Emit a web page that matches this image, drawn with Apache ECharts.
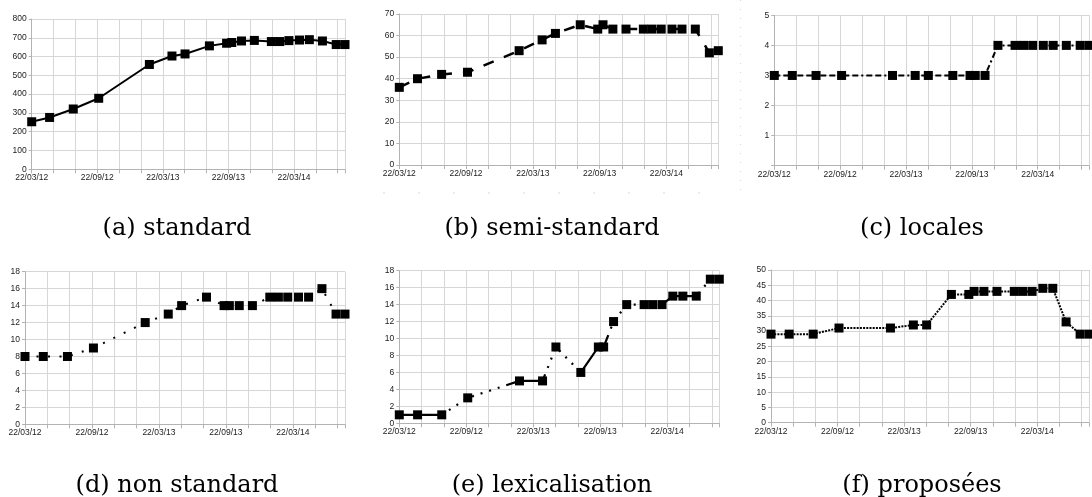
<!DOCTYPE html>
<html>
<head>
<meta charset="utf-8">
<script src="https://cdn.jsdelivr.net/npm/echarts@6/dist/echarts.min.js"></script>
<style>
html,body{margin:0;padding:0;background:#fff;}
#chart{width:1092px;height:497px;}
</style>
</head>
<body>
<div id="chart"></div>
<script>
// ---- data ----
const dates = ['2012-03-22','2012-05-11','2012-07-16','2012-09-26','2013-02-15','2013-04-17','2013-05-23','2013-07-30','2013-09-17','2013-10-01','2013-10-28','2013-12-03','2014-01-20','2014-02-13','2014-03-08','2014-04-07','2014-05-04','2014-06-10','2014-07-18','2014-08-12'];
const xTickLabels = ['22/03/12','22/09/12','22/03/13','22/09/13','22/03/14'];
const standard = [253, 276, 321, 378, 558, 603, 614, 657, 671, 675, 683, 686, 680, 680, 685, 688, 690, 683, 664, 664];
const semiStandard = [36, 40, 42, 43, 53, 58, 61, 65, 63, 65, 63, 63, 63, 63, 63, 63, 63, 63, 52, 53];
const locales = [3, 3, 3, 3, 3, 3, 3, 3, 3, 3, 3, 4, 4, 4, 4, 4, 4, 4, 4, 4];
const nonStandard = [8, 8, 8, 9, 12, 13, 14, 15, 14, 14, 14, 14, 15, 15, 15, 15, 15, 16, 13, 13];
const lexicalisation = [1, 1, 1, 3, 5, 5, 9, 6, 9, 9, 12, 14, 14, 14, 14, 15, 15, 15, 17, 17];
const proposees = [29, 29, 29, 31, 31, 32, 32, 42, 42, 43, 43, 43, 43, 43, 43, 44, 44, 33, 29, 29];
const captions = ['(a) standard','(b) semi-standard','(c) locales','(d) non standard','(e) lexicalisation','(f) proposées'];
const yTicks = [[0,800,100],[0,70,10],[0,5,1],[0,18,2],[0,18,2],[0,50,5]];

// months elapsed since the first snapshot (22/03/12)
function monthsFromStart(s){
  const p = s.split('-').map(Number);
  return (p[0]-2012)*12 + (p[1]-3) + (p[2]-22)/30.4;
}

// ---- layout / styles ----
const panels = [
  {left:31.7, top:19, right:345, bottom:169.3, width:2, dash:'solid', values:standard},
  {left:399.3, top:14, right:718.3, bottom:165, width:2.5, dash:[11,11], values:semiStandard},
  {left:774.3, top:15.3, right:1092.8, bottom:165.7, width:2, dash:[6,3,6,3,2,3], values:locales, hideZero:true},
  {left:25, top:271.7, right:345, bottom:424.3, width:2, dash:[2,9.5], values:nonStandard},
  {left:399.3, top:270.7, right:719.3, bottom:423.3, width:2.2, dash:[44,7,2,7,2,7,2,7,2,7,2,7,2,7,2,7], values:lexicalisation},
  {left:771, top:270, right:1092.6, bottom:422.7, width:2, dash:[2,1.2], values:proposees}
];
const captionPos = [[177,229],[552,229],[922,229],[177,486],[552,486],[922,486]];

const xMax = monthsFromStart(dates[dates.length-1]);
const grids = [], xAxes = [], yAxes = [], series = [];
panels.forEach((p,i)=>{
  grids.push({left:p.left, top:p.top, width:p.right-p.left, height:p.bottom-p.top, containLabel:false});
  xAxes.push({
    type:'value', gridIndex:i, min:0, max:xMax, interval:2,
    axisLine:{show:true, onZero:false, lineStyle:{color:'#b3b3b3', width:1}},
    axisTick:{show:true, length:4, lineStyle:{color:'#b3b3b3'}},
    splitLine:{show:true, lineStyle:{color:'#d6d6d6', width:1}},
    axisLabel:{
      show:true, margin:4, color:'#222', fontSize:8.5, fontFamily:'"Liberation Sans", Arial, sans-serif',
      formatter:function(v){
        const k = v/6;
        if (Math.abs(k-Math.round(k))<1e-6 && xTickLabels[Math.round(k)]) return xTickLabels[Math.round(k)];
        return '';
      }
    }
  });
  const yt = yTicks[i];
  yAxes.push({
    type:'value', gridIndex:i, min:yt[0], max:yt[1], interval:yt[2],
    axisLine:{show:true, lineStyle:{color:'#b3b3b3', width:1}},
    axisTick:{show:true, length:3, lineStyle:{color:'#b3b3b3'}},
    splitLine:{show:true, lineStyle:{color:'#d6d6d6', width:1}},
    axisLabel:{
      show:true, margin:5, color:'#222', fontSize:8.5, fontFamily:'"Liberation Sans", Arial, sans-serif',
      formatter:function(v){ return (p.hideZero && v===0) ? '' : String(v); }
    }
  });
  series.push({
    type:'line', xAxisIndex:i, yAxisIndex:i,
    data: dates.map((d,k)=>[monthsFromStart(d), p.values[k]]),
    symbol:'rect', symbolSize:9, showSymbol:true,
    itemStyle:{color:'#000'},
    lineStyle:{color:'#000', width:p.width, type:p.dash, cap:'butt'},
    clip:false, animation:false, z:3
  });
});

const graphics = captions.map((c,i)=>({
  type:'text', x:captionPos[i][0], y:captionPos[i][1], silent:true,
  style:{text:c, fill:'#000', font:'24px "DejaVu Serif", serif', align:'center', verticalAlign:'middle'}
}));
// faint scan artefacts at the panel borders
graphics.push({type:'line', silent:true, shape:{x1:740.5, y1:0, x2:740.5, y2:195},
  style:{stroke:'#d8d8d8', lineWidth:1, lineDash:[1,8]}});
graphics.push({type:'line', silent:true, shape:{x1:383, y1:193, x2:720, y2:193},
  style:{stroke:'#d8d8d8', lineWidth:1, lineDash:[2,33]}});

const chart = echarts.init(document.getElementById('chart'), null, {renderer:'canvas'});
chart.setOption({
  animation:false,
  backgroundColor:'#fff',
  grid:grids, xAxis:xAxes, yAxis:yAxes, series:series,
  graphic:graphics
});
</script>
</body>
</html>
